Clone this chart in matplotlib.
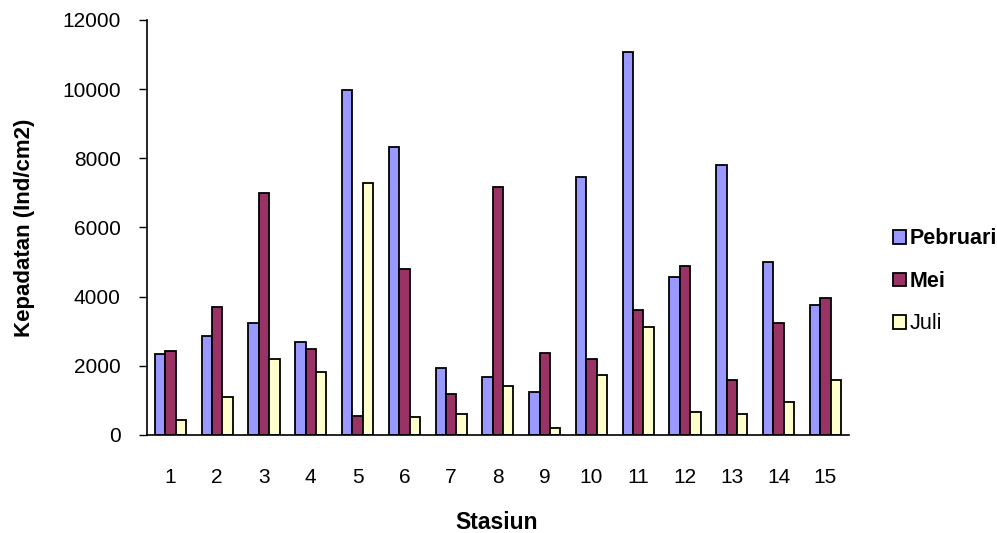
import matplotlib

matplotlib.use("Agg")

import matplotlib.pyplot as plt
import numpy as np

plt.rcParams["font.family"] = ["Liberation Sans", "DejaVu Sans"]

stations = [str(i) for i in range(1, 16)]
pebruari = [2350, 2870, 3240, 2700, 9980, 8340, 1930, 1670, 1240, 7470, 11070, 4560, 7810, 5000, 3760]
mei = [2430, 3700, 7010, 2480, 550, 4790, 1190, 7180, 2360, 2190, 3610, 4900, 1590, 3230, 3970]
juli = [430, 1110, 2190, 1830, 7300, 530, 610, 1420, 190, 1720, 3110, 660, 600, 950, 1590]

series = [
    ("Pebruari", pebruari, "#9999ff"),
    ("Mei", mei, "#993366"),
    ("Juli", juli, "#ffffcc"),
]

fig = plt.figure(figsize=(9.97, 5.33), dpi=100)
ax = fig.add_axes([0.1474, 0.1839, 0.704, 0.7786])

x = np.arange(len(stations))
width = 0.222
for i, (name, values, color) in enumerate(series):
    ax.bar(x + (i - 1) * width, values, width, color=color, edgecolor="black",
           linewidth=1.3, label=name)

ax.set_xlim(-0.5, len(stations) - 0.5)
ax.set_ylim(0, 12000)
ax.set_yticks(range(0, 12001, 2000))
ax.set_xticks(x)
ax.set_xticklabels(stations)
ax.tick_params(axis="y", direction="out", length=6, width=1, labelsize=15, pad=13)
ax.tick_params(axis="x", length=0, labelsize=15, pad=24)

for side in ["top", "right"]:
    ax.spines[side].set_visible(False)
ax.spines["left"].set_linewidth(1.2)
ax.spines["bottom"].set_linewidth(1.2)

ax.set_xlabel("Stasiun", fontsize=16.5, fontweight="bold")
ax.set_ylabel("Kepadatan (Ind/cm2)", fontsize=16, fontweight="bold")
ax.xaxis.set_label_coords(0.4986, -0.183)
ax.yaxis.set_label_coords(-0.1595, 0.499)

leg = ax.legend(loc="center left", bbox_to_anchor=(1.035, 0.37), frameon=False,
                prop={"weight": "bold", "size": 15.5},
                handlelength=0.6, handleheight=0.6, handletextpad=0.2, labelspacing=1.0)
leg.get_texts()[2].set_fontweight("normal")

fig.savefig("out.png", dpi=100)
